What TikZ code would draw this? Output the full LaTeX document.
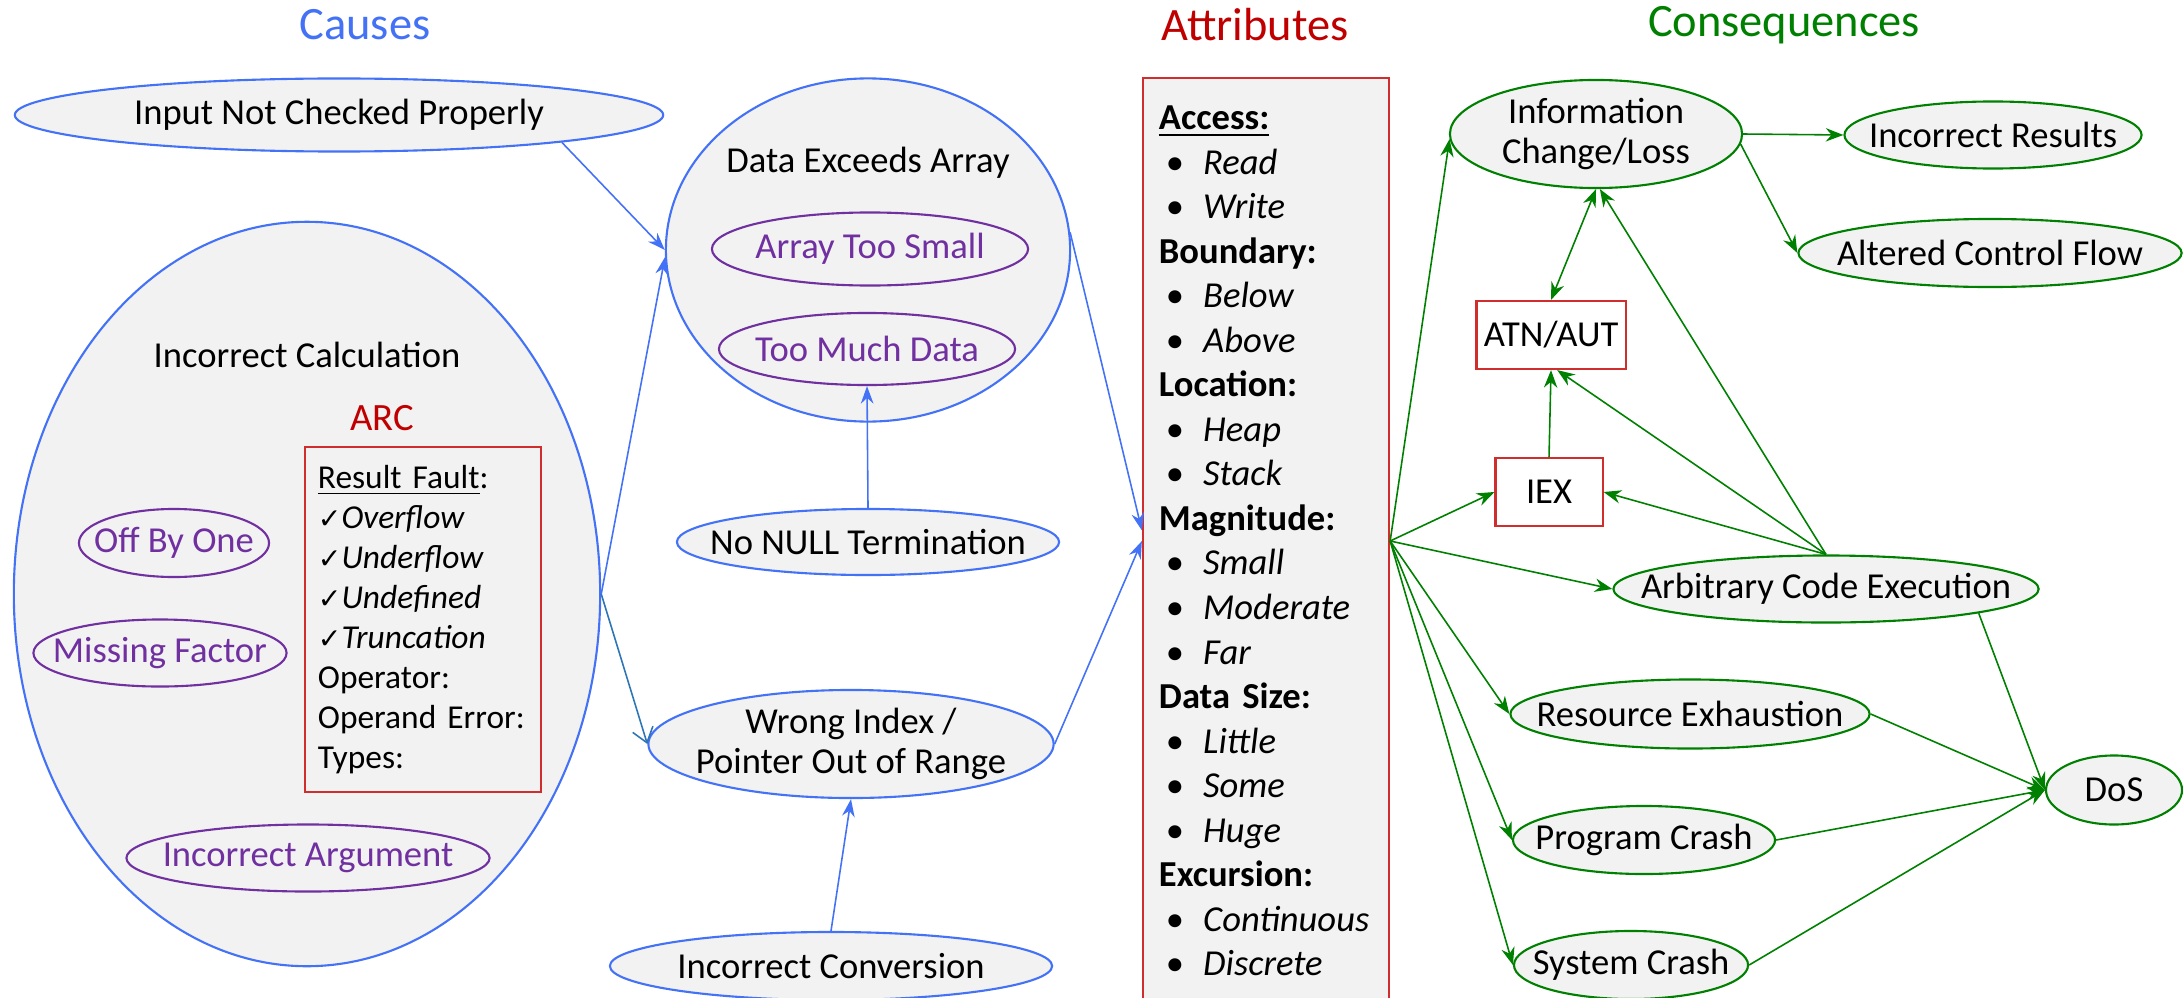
\documentclass[tikz,border=0pt]{standalone}
\usepackage{fontspec}
\setmainfont{Carlito}
\newfontfamily\symfont{DejaVu Sans}
\usetikzlibrary{shapes.geometric,arrows.meta}

\definecolor{causeblue}{RGB}{68,114,246}
\definecolor{linkteal}{RGB}{46,117,182}
\definecolor{subpurple}{RGB}{112,48,160}
\definecolor{attrred}{RGB}{192,0,0}
\definecolor{boxred}{RGB}{208,45,45}
\definecolor{conseqgreen}{RGB}{0,128,0}
\definecolor{shade}{RGB}{242,242,242}

\newcommand\bodyfont{\fontsize{10.4}{11.6}\selectfont}
\newcommand\titlefont{\fontsize{13.2}{15}\selectfont}
\newcommand\chk[1]{{\symfont\fontsize{8}{8}\selectfont ✓}\textit{#1}}
\newcommand\attritem[1]{\hspace*{2pt}\textbullet\hspace{5.4pt}\textit{#1}}

\begin{document}
\begin{tikzpicture}[x=0.01cm,y=-0.01cm,font=\bodyfont,
  cause/.style={ellipse,draw=causeblue,fill=shade,line width=0.6pt,inner sep=-1cm},
  subcause/.style={ellipse,draw=subpurple,fill=shade,text=subpurple,line width=0.6pt,inner sep=-1cm},
  conseq/.style={ellipse,draw=conseqgreen,fill=shade,line width=0.6pt,inner sep=-1cm},
  tag/.style={rectangle,draw=boxred,fill=white,line width=0.6pt,inner sep=0pt},
  head/.style={font=\titlefont},
  arcbox/.style={rectangle,draw=boxred,fill=shade,line width=0.6pt,text width=2.1cm,inner xsep=0.13cm,
    minimum height=3.45cm,align=left,font=\fontsize{9.5}{11.4}\selectfont},
  attrbox/.style={rectangle,draw=boxred,fill=shade,line width=0.6pt,text width=2.14cm,inner xsep=0.16cm,
    minimum height=9.26cm,align=left,font=\fontsize{10.4}{12.66}\selectfont},
  cause link/.style={-{Stealth[length=5pt,width=3.6pt]},color=causeblue,line width=0.45pt},
  index link/.style={-{Straight Barb[length=4pt,width=6pt]},color=linkteal,line width=0.45pt},
  conseq link/.style={-{Stealth[length=5pt,width=3.8pt]},color=conseqgreen,line width=0.45pt}]
\useasboundingbox (0,0) rectangle (2183,997);

% headings
\node[head,text=causeblue] (causes) at (365,25) {Causes};
\node[head,text=attrred] (attrhead) at (1255,25) {Attributes};
\node[head,text=conseqgreen] (conseqhead) at (1784,25) {Consequences};

% causes
\node[cause,minimum width=6.48cm,minimum height=0.73cm] (input) at (339,115) {Input Not Checked Properly};
\node[cause,minimum width=4.04cm,minimum height=3.43cm] (dataex) at (868,250) {};
\node (dataexlbl) at (868,163) {Data Exceeds Array};
\node[subcause,minimum width=3.16cm,minimum height=0.73cm] (small) at (870,249) {Array Too Small};
\node[subcause,minimum width=2.96cm,minimum height=0.72cm] (much) at (867,349) {Too Much Data};

\node[cause,minimum width=5.86cm,minimum height=7.44cm] (calc) at (307,594) {};
\node (calclbl) at (307,355) {Incorrect Calculation};
\node[text=attrred,font=\fontsize{11}{13}\selectfont] (arclbl) at (382,418) {ARC};
\node[arcbox] (arc) at (423,619.5) {\underline{Result Fault}:\\ \chk{Overflow}\\ \chk{Underflow}\\
  \chk{Undefined}\\ \chk{Truncation}\\ Operator:\\ Operand Error:\\ Types:};
\node[subcause,minimum width=1.90cm,minimum height=0.68cm] (offby) at (174,543) {Off By One};
\node[subcause,minimum width=2.53cm,minimum height=0.67cm] (missing) at (160,653) {Missing Factor};
\node[subcause,minimum width=3.63cm,minimum height=0.67cm] (incarg) at (308,858) {Incorrect Argument};

\node[cause,minimum width=3.82cm,minimum height=0.66cm] (nonull) at (868,542) {No NULL Termination};
\node[cause,minimum width=4.05cm,minimum height=1.08cm,align=center] (wrongidx) at (851,744) {Wrong Index /\\Pointer Out of Range};
\node[cause,minimum width=4.42cm,minimum height=0.68cm] (incconv) at (831,966) {Incorrect Conversion};

% attributes
\node[attrbox] (attr) at (1266,541) {\underline{\textbf{Access:}}\\ \attritem{Read}\\ \attritem{Write}\\
  \textbf{Boundary:}\\ \attritem{Below}\\ \attritem{Above}\\
  \textbf{Location:}\\ \attritem{Heap}\\ \attritem{Stack}\\
  \textbf{Magnitude:}\\ \attritem{Small}\\ \attritem{Moderate}\\ \attritem{Far}\\
  \textbf{Data Size:}\\ \attritem{Little}\\ \attritem{Some}\\ \attritem{Huge}\\
  \textbf{Excursion:}\\ \attritem{Continuous}\\ \attritem{Discrete}};

% consequences
\node[conseq,minimum width=2.92cm,minimum height=1.08cm,align=center] (info) at (1596,134) {Information\\Change/Loss};
\node[conseq,minimum width=2.97cm,minimum height=0.67cm] (incres) at (1993,135) {Incorrect Results};
\node[conseq,minimum width=3.83cm,minimum height=0.68cm] (altered) at (1990,253) {Altered Control Flow};
\node[tag,minimum width=1.49cm,minimum height=0.68cm] (atn) at (1551,335) {ATN/AUT};
\node[tag,minimum width=1.07cm,minimum height=0.68cm] (iex) at (1549,492) {IEX};
\node[conseq,minimum width=4.25cm,minimum height=0.67cm] (ace) at (1826,589) {Arbitrary Code Execution};
\node[conseq,minimum width=3.59cm,minimum height=0.69cm] (resx) at (1690,714) {Resource Exhaustion};
\node[conseq,minimum width=2.62cm,minimum height=0.68cm] (prog) at (1644,840) {Program Crash};
\node[conseq,minimum width=2.34cm,minimum height=0.68cm] (sysc) at (1631,965) {System Crash};
\node[conseq,minimum width=1.36cm,minimum height=0.69cm] (dos) at (2114,790) {DoS};

% cause links
\draw[cause link] (input.-7) -- (dataex.west);
\draw[cause link] (calc.east) -- (dataex.182);
\draw[index link] (calc.east) -- (wrongidx.west);
\draw[cause link] (nonull.north) -- (much.south);
\draw[cause link] (incconv.north) -- (wrongidx.south);
\draw[cause link] (dataex.5) -- ([yshift=3pt]attr.west);
\draw[cause link] (wrongidx.east) -- (attr.west);

% consequence links
\path[conseq link] (attr.east) edge (info.182)
                               edge (iex.west)
                               edge (ace.west)
                               edge (resx.west)
                               edge (prog.west)
                               edge (sysc.west);
\path[conseq link] (info.east) edge (incres.west)
                   (info.-4) edge (altered.west)
                   (iex.north) edge (atn.south)
                   (ace.north) edge (atn.-80)
                               edge (iex.east)
                               edge (info.-86);
\draw[conseq link,{Stealth[length=5pt,width=3.8pt]}-{Stealth[length=5pt,width=3.8pt]}] (atn.north) -- (info.south);
\path[conseq link] (ace.-9) edge (dos.west)
                   (resx.east) edge (dos.west)
                   (prog.east) edge (dos.west)
                   (sysc.east) edge (dos.west);
\end{tikzpicture}
\end{document}
